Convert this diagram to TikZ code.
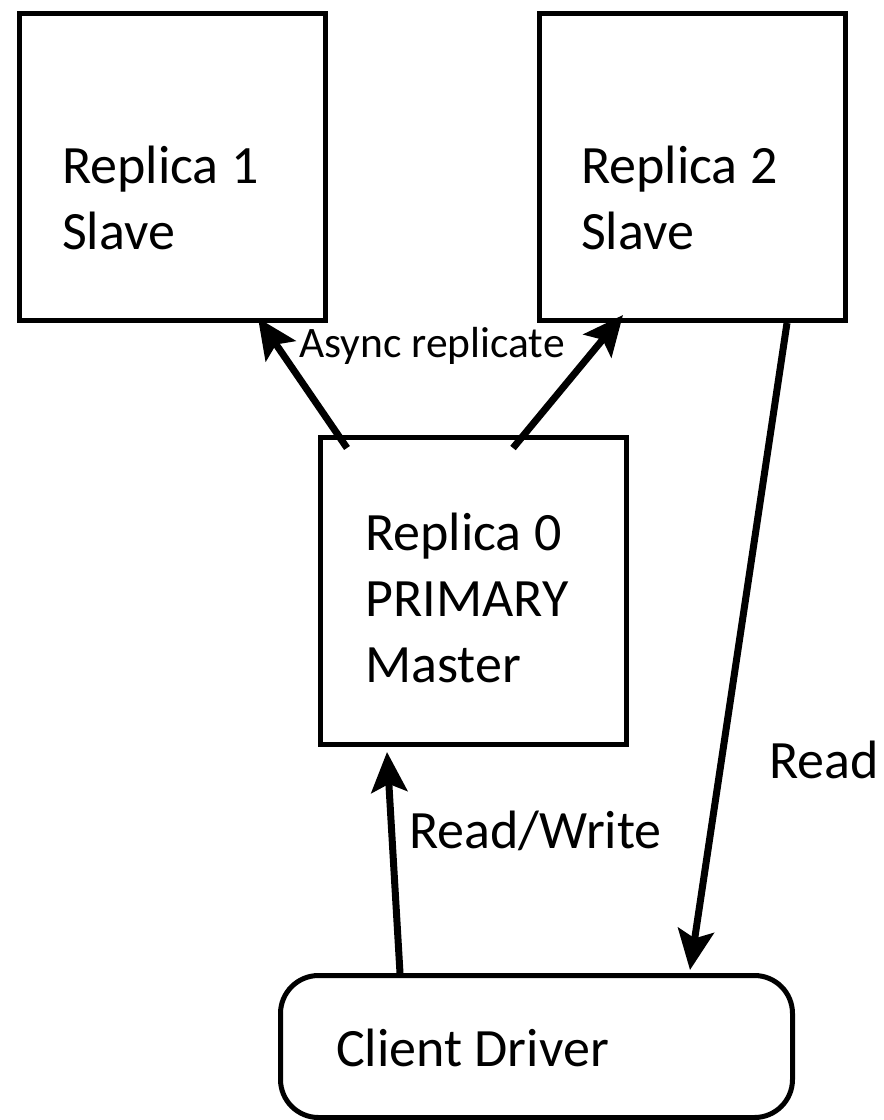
\documentclass[tikz,border=0pt]{standalone}
\usepackage{fontspec}
\setmainfont{Carlito}
\usetikzlibrary{arrows.meta}
\begin{document}
\begin{tikzpicture}[x=1pt,y=-1pt,
  box/.style={draw, line width=5pt, minimum width=306pt, minimum height=307pt,
    inner sep=0pt, anchor=north west},
  txt/.style={inner sep=0pt, anchor=base west, align=left,
    font=\fontsize{54}{66}\selectfont},
  small/.style={inner sep=0pt, anchor=base west, font=\fontsize{43.5}{50}\selectfont},
  arr/.style={line width=7pt, -{Stealth[length=40pt,width=36pt,inset=8pt]}}]
\useasboundingbox (0,0) rectangle (884,1120);

% replica boxes
\node[box] (r1) at (17,11) {};
\node[box] (r2) at (537,11) {};
\node[box] (r0) at (318,435) {};
\node[draw, line width=5pt, rounded corners=38pt, minimum width=512pt,
  minimum height=142pt, inner sep=0pt, anchor=north west] (cd) at (278,973) {};

% box texts (anchored at the baseline of the last line)
\node[txt] (t1) at (62,249) {Replica 1\\Slave};
\node[txt] (t2) at (581,249) {Replica 2\\Slave};
\node[txt] (t0) at (365,682) {Replica 0\\PRIMARY\\Master};
\node[txt] (tc) at (336,1066) {Client Driver};

% connectors
\draw[arr] ([shift={(29,13)}]r0.north west) -- ([shift={(-70,-5)}]r1.south east);
\draw[arr] ([shift={(195,13)}]r0.north west) -- ([shift={(86,-8)}]r2.south west);
\draw[arr] ([shift={(122,0)}]cd.north west) -- ([shift={(69,5)}]r0.south west);
\draw[arr] ([shift={(250,0)}]r2.south west) -- ([shift={(412,-3)}]cd.north west);

% connector labels
\node[small] (la) at (299,357) {Async replicate};
\node[txt] (lrw) at (409,848) {Read/Write};
\node[txt] (lr) at (769,778) {Read};
\end{tikzpicture}
\end{document}
